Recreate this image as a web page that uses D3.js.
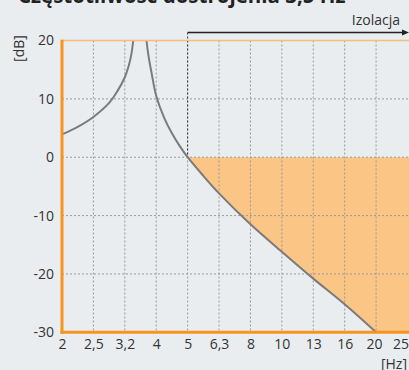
<!DOCTYPE html>
<html><head><meta charset="utf-8">
<script src="https://cdn.jsdelivr.net/npm/d3@7/dist/d3.min.js"></script>
<style>
html,body{margin:0;padding:0;background:#e9edf0;}
svg{display:block;font-family:"Open Sans",sans-serif;}
</style></head>
<body><svg id="c" width="409" height="370"></svg>
<script>
const bands = ["2","2,5","3,2","4","5","6,3","8","10","13","16","20","25"];
const yTicks = [20,10,0,-10,-20,-30];
// [band index, dB]
const leftBranch = [[0,3.9],[0.5,5.2],[1,6.9],[1.5,9.3],[1.75,11.2],[2,13.7],[2.12,15.6],[2.2,17.4],[2.27,20]];
const rightBranch = [[2.69,20],[2.75,17.5],[2.85,14.5],[3,10.5],[3.25,6.8],[3.5,4.1],[3.75,1.9],[4,0],[4.5,-3.2],[5,-6.2],[6,-11.5],[7,-16.2],[8,-20.8],[9,-25.2],[10,-30]];
const isolationFrom = 4; // band index of 5 Hz
const title = "Częstotliwość dostrojenia 3,5 Hz";

const svg = d3.select("#c");
const L=62, R=407.5, T=40.5, B=332.3;
const xb = d3.scalePoint().domain(bands).range([L,R]);
const x = d3.scaleLinear().domain([0,bands.length-1]).range([L,R]);
const y = d3.scaleLinear().domain([-30,20]).range([B,T]);

// title (cut at top, as in the reference)
svg.append("text").attr("x",18).attr("y",3).attr("font-size",20.5).attr("font-weight","bold")
  .attr("fill","#222").text(title);

// fill
const line = d3.line().x(d=>x(d[0])).y(d=>y(d[1])).curve(d3.curveCatmullRom.alpha(0.5));
const fillPts = rightBranch.filter(d=>d[0]>=isolationFrom);
const last = fillPts[fillPts.length-1];
svg.append("path")
  .attr("d", line(fillPts) + `L${x(bands.length-1)+2},${y(last[1])}L${x(bands.length-1)+2},${y(0)}L${x(isolationFrom)},${y(0)}Z`)
  .attr("fill","#fbc585");

// grid
const g = svg.append("g");
g.selectAll(".vg").data(bands.slice(1,bands.length-1)).join("line")
  .attr("x1",d=>xb(d)).attr("x2",d=>xb(d)).attr("y1",T).attr("y2",B)
  .attr("stroke","#9a9a9a").attr("stroke-width",1).attr("stroke-dasharray","2,2");
g.selectAll(".hg").data(yTicks.slice(1,yTicks.length-1)).join("line")
  .attr("x1",L).attr("x2",R+2).attr("y1",d=>y(d)).attr("y2",d=>y(d))
  .attr("stroke","#9a9a9a").attr("stroke-width",1).attr("stroke-dasharray","2,2");

// isolation marker
svg.append("line").attr("x1",x(isolationFrom)).attr("x2",x(isolationFrom)).attr("y1",32.5).attr("y2",y(0))
  .attr("stroke","#333").attr("stroke-width",1).attr("stroke-dasharray","2,2");
svg.append("line").attr("x1",x(isolationFrom)).attr("x2",405).attr("y1",32.5).attr("y2",32.5)
  .attr("stroke","#222").attr("stroke-width",1.3);
svg.append("path").attr("d","M409,32.5L402,29.5L402,35.5Z").attr("fill","#222");
svg.append("text").attr("x",400).attr("y",25).attr("text-anchor","end").attr("font-size",14)
  .attr("fill","#333").text("Izolacja");

// curve
svg.append("clipPath").attr("id","pc").append("rect").attr("x",L).attr("y",T).attr("width",R-L+2).attr("height",B-T);
[leftBranch,rightBranch].forEach(b=>{
  svg.append("path").attr("d",line(b)).attr("fill","none").attr("stroke","#7b7b7b").attr("stroke-width",2)
    .attr("clip-path","url(#pc)");
});

// borders
svg.append("line").attr("x1",L).attr("x2",409).attr("y1",T).attr("y2",T).attr("stroke","#f8bd7a").attr("stroke-width",1.5);
svg.append("line").attr("x1",L).attr("x2",L).attr("y1",T-0.75).attr("y2",B+1.5).attr("stroke","#f7941d").attr("stroke-width",3);
svg.append("line").attr("x1",L-1.5).attr("x2",409).attr("y1",B).attr("y2",B).attr("stroke","#f7941d").attr("stroke-width",3);

// axes
const ya = svg.append("g").attr("transform",`translate(${L-8},0)`)
  .call(d3.axisLeft(y).tickValues(yTicks).tickSize(0).tickPadding(0).tickFormat(d=>String(d)));
ya.select(".domain").remove();
ya.selectAll("text").attr("font-size",14).attr("fill","#333").attr("font-family","Open Sans, sans-serif");

const xa = svg.append("g").attr("transform",`translate(0,${B+5})`)
  .call(d3.axisBottom(xb).tickSize(0).tickPadding(0));
xa.select(".domain").remove();
xa.selectAll("text").attr("font-size",14).attr("fill","#333").attr("font-family","Open Sans, sans-serif").attr("dy","0.85em");
xa.selectAll(".tick").filter(d=>d===bands[bands.length-1]).select("text").attr("text-anchor","end").attr("x",1);
xa.selectAll(".tick").filter(d=>d===bands[bands.length-2]).select("text").attr("x",-2);

svg.append("text").attr("transform","translate(24,48.5) rotate(-90)").attr("text-anchor","middle")
  .attr("font-size",14).attr("fill","#333").text("[dB]");
svg.append("text").attr("x",407).attr("y",369).attr("text-anchor","end")
  .attr("font-size",14).attr("fill","#333").text("[Hz]");
</script></body></html>
